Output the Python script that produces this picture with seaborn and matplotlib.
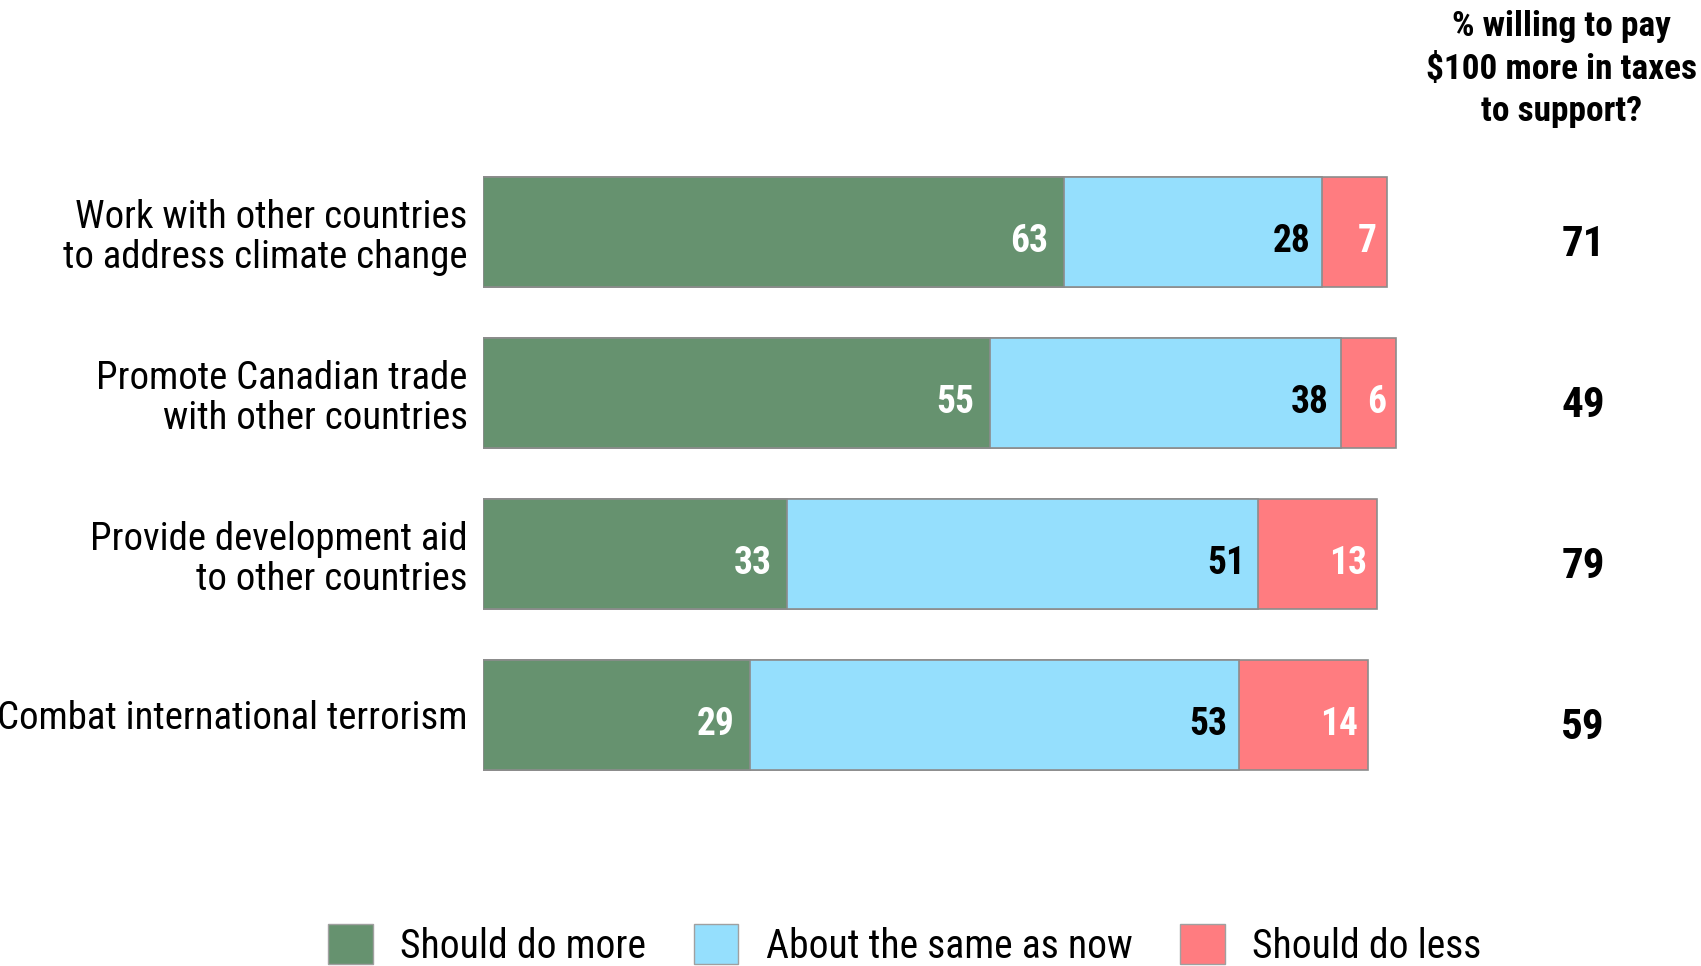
import matplotlib
matplotlib.use('Agg')
import pandas as pd
import numpy as np
import seaborn as sns
import matplotlib.pyplot as plt
from matplotlib.patches import Patch

# Datos
categorias = ['Work with other countries\nto address climate change',
              'Promote Canadian trade\nwith other countries',
              'Provide development aid\nto other countries',
              'Combat international terrorism']
mas = [63, 55, 33, 29]
igual = [28, 38, 51, 53]
menos = [7, 6, 13, 14]
dispuestos = [71, 49, 79, 59]
series = ['Should do more', 'About the same as now', 'Should do less']
colores = ['#66926F', '#95DFFD', '#FF7C80']

sns.set_style('white')
plt.rcParams['font.family'] = ['Roboto Condensed', 'DejaVu Sans']
plt.rcParams['font.stretch'] = 'condensed'
plt.rcParams['text.color'] = 'black'
plt.rcParams['ytick.color'] = 'black'
plt.rcParams['ytick.labelcolor'] = 'black'

df = pd.DataFrame({'cat': categorias, 'mas': mas, 'igual': igual, 'menos': menos})
df['c1'] = df['mas']
df['c2'] = df['mas'] + df['igual']
df['c3'] = df['c2'] + df['menos']

fig = plt.figure(figsize=(17.01, 9.66), dpi=100)
ax = fig.add_axes([0.284, 0.1765, 0.716, 0.6667])

# barras apiladas: se dibuja del total hacia el primer segmento
for col, color in zip(['c3', 'c2', 'c1'], colores[::-1]):
    sns.barplot(data=df, x=col, y='cat', color=color, orient='h', width=0.68,
                edgecolor='#8c8c8c', linewidth=1.2, saturation=1, ax=ax)

ax.set_xlim(0, 132.1)
ax.set_ylim(3.5, -0.5)
ax.set_xlabel('')
ax.set_ylabel('')
ax.set_xticks([])
sns.despine(ax=ax, left=True, bottom=True)
ax.tick_params(axis='y', length=0, pad=11, labelsize=28, labelcolor='black')
for t in ax.get_yticklabels():
    t.set_multialignment('right')
    t.set_linespacing(1.12)

# etiquetas de valores
for i in range(len(categorias)):
    y = i + 0.058
    ax.text(df['c1'][i] - 1.7, y, str(mas[i]), ha='right', va='center',
            color='white', fontsize=27, fontweight='bold')
    ax.text(df['c2'][i] - 1.3, y, str(igual[i]), ha='right', va='center',
            color='black', fontsize=27, fontweight='bold')
    ax.text(df['c3'][i] - 1.1, y, str(menos[i]), ha='right', va='center',
            color='white', fontsize=27, fontweight='bold')
    ax.text(119.3, i + 0.08, str(dispuestos[i]), ha='center', va='center',
            color='black', fontsize=31, fontweight='bold')

fig.text(0.918, 0.99, '% willing to pay\n\\$100 more in taxes\nto support?',
         ha='center', va='top', fontsize=25.5, fontweight='bold', linespacing=1.38)

handles = [Patch(facecolor=c, edgecolor='#a0a0a0', label=s) for c, s in zip(colores, series)]
fig.legend(handles=handles, loc='center', bbox_to_anchor=(0.532, 0.022), ncol=3,
           frameon=False, fontsize=28.5, handlelength=1.12, handleheight=1.2,
           handletextpad=0.7, columnspacing=1.2, borderpad=0)

plt.savefig('out.png', dpi=100)
